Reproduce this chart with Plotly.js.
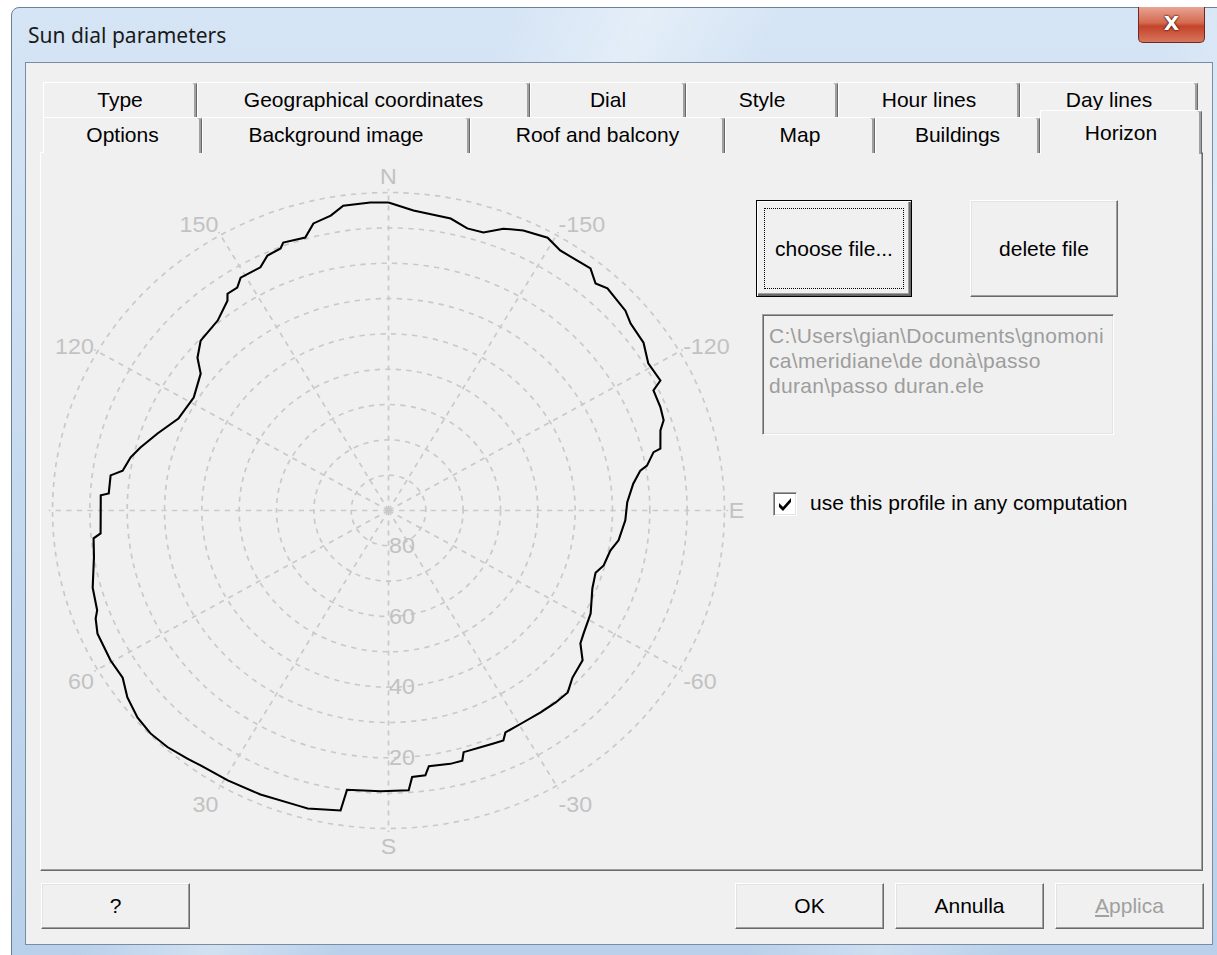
<!DOCTYPE html>
<html>
<head>
<meta charset="utf-8">
<script src="https://cdn.plot.ly/plotly-3.0.1.min.js"></script>
<style>
  html, body { margin:0; padding:0; }
  body { width:1217px; height:955px; overflow:hidden; background:#ffffff; position:relative; font-family:'Liberation Sans', Arial, sans-serif; }
  #win { position:absolute; left:11px; top:7px; width:1230px; height:960px; box-sizing:border-box;
         border:1px solid #6d7f96; border-top-left-radius:8px;
         background:
           linear-gradient(115deg, rgba(255,255,255,0) 30%, rgba(255,255,255,0.35) 38%, rgba(255,255,255,0) 46%, rgba(255,255,255,0) 70%, rgba(255,255,255,0.3) 78%, rgba(255,255,255,0) 86%),
           linear-gradient(to bottom, #d6e5f5 0%, #c3d8ee 60%, #b9d0ea 100%); }
  #title { position:absolute; left:28px; top:21px; font-family:'Noto Sans', 'Open Sans', sans-serif; font-size:21px; color:#1a1a1a; }
  #close { position:absolute; left:1138px; top:7px; width:67px; height:36px; box-sizing:border-box;
           border:1px solid #6e2a20; border-top:none; border-radius:0 0 5px 5px;
           background:linear-gradient(to bottom, #e8a493 0%, #d46a50 45%, #c2432a 55%, #d8755d 100%);
           color:#fff; font:bold 20px 'DejaVu Sans', sans-serif; text-align:center; line-height:33px;
           text-shadow:0 0 2px #4a0c00, 0 0 2px #4a0c00; }
  #client { position:absolute; left:25px; top:62px; width:1188px; height:883px; box-sizing:border-box;
            background:#f0f0f0; border:1px solid #7a8ca3; }
  .tab { position:absolute; box-sizing:border-box; background:#f0f0f0; border-top:1px solid #ffffff; border-left:1px solid #ffffff;
         border-right:1px solid #696969; box-shadow: inset -2px 0 0 #a0a0a0; border-top-right-radius:3px;
         text-align:center; font-size:21px; color:#000; white-space:nowrap; }
  .r1 { top:82px; height:36px; line-height:34px; }
  .r2 { top:117px; height:36px; line-height:34px; }
  #panel { position:absolute; left:40px; top:152px; width:1163px; height:719px; box-sizing:border-box;
           border-top:1px solid #ffffff; border-left:1px solid #ffffff; border-right:1px solid #696969; border-bottom:1px solid #696969;
           box-shadow: inset -1px -1px 0 #a0a0a0; background:#f0f0f0; }
  #seltab { position:absolute; left:1040px; top:110px; width:162px; height:44px; box-sizing:border-box; background:#f0f0f0;
            border-top:1px solid #ffffff; border-left:1px solid #ffffff; border-right:1px solid #696969; box-shadow: inset -2px 0 0 #a0a0a0;
            border-top-right-radius:3px; text-align:center; font-size:21px; line-height:44px; padding-bottom:4px; z-index:3; }
  .btn { position:absolute; box-sizing:border-box; background:#f0f0f0; border:1px solid; border-color:#ffffff #696969 #696969 #ffffff;
         box-shadow: inset -1px -1px 0 #a0a0a0, inset 1px 1px 0 #e3e3e3; text-align:center; font-size:21px; color:#000; z-index:4; }
  #choose { border:1px solid #000; box-shadow: inset 1px 1px 0 #ffffff, inset -2px -2px 0 #696969, inset -3px -3px 0 #a0a0a0; }
  #focus { position:absolute; left:7px; top:7px; right:7px; bottom:7px; border:1px dotted #000; }
  #pathbox { position:absolute; left:762px; top:314px; width:352px; height:121px; box-sizing:border-box; background:#f0f0f0;
             border:1px solid; border-color:#a0a0a0 #ffffff #ffffff #a0a0a0; box-shadow: inset 1px 1px 0 #696969, inset -1px -1px 0 #e3e3e3;
             padding:8px 0 0 6px; font-size:21px; line-height:25px; color:#9d9d9d; letter-spacing:0.3px; white-space:nowrap; z-index:4; }
  #chk { position:absolute; left:773px; top:492px; width:24px; height:24px; box-sizing:border-box; background:#ffffff;
         border:1px solid; border-color:#a0a0a0 #ffffff #ffffff #a0a0a0; box-shadow: inset 1px 1px 0 #696969, inset -1px -1px 0 #e3e3e3; z-index:4; }
  #chklabel { position:absolute; left:810px; top:491px; font-size:21px; color:#000; z-index:4; white-space:nowrap; }
  #chart { position:absolute; left:6.5px; top:128.5px; width:763px; height:763px; transform:scaleX(1.0566); transform-origin:50% 50%; z-index:2; }
</style>
</head>
<body>
<div id="win"></div>
<div id="title">Sun dial parameters</div>
<div id="close">X</div>
<div id="client"></div>

<div id="panel"></div>

<div class="tab r1" style="left:43px;width:154px;">Type</div>
<div class="tab r1" style="left:197px;width:333px;">Geographical coordinates</div>
<div class="tab r1" style="left:530px;width:156px;">Dial</div>
<div class="tab r1" style="left:686px;width:152px;">Style</div>
<div class="tab r1" style="left:838px;width:182px;">Hour lines</div>
<div class="tab r1" style="left:1020px;width:178px;">Day lines</div>
<div class="tab r2" style="left:43px;width:159px;">Options</div>
<div class="tab r2" style="left:202px;width:268px;">Background image</div>
<div class="tab r2" style="left:470px;width:255px;">Roof and balcony</div>
<div class="tab r2" style="left:725px;width:150px;">Map</div>
<div class="tab r2" style="left:875px;width:165px;">Buildings</div>
<div id="seltab">Horizon</div>

<div id="chart"></div>

<div class="btn" id="choose" style="left:756px;top:200px;width:156px;height:97px;line-height:95px;"><div id="focus"></div>choose file...</div>
<div class="btn" style="left:970px;top:200px;width:148px;height:97px;line-height:95px;">delete file</div>
<div id="pathbox">C:\Users\gian\Documents\gnomoni<br>ca\meridiane\de donà\passo<br>duran\passo duran.ele</div>
<div id="chk"><svg width="22" height="22" viewBox="0 0 22 22" style="position:absolute;left:0;top:0"><path d="M5 10 L9 14 L17 5 L17 9 L9 18 L5 14 Z" fill="#000"/></svg></div>
<div id="chklabel">use this profile in any computation</div>

<div class="btn" style="left:41px;top:883px;width:149px;height:46px;line-height:44px;">?</div>
<div class="btn" style="left:735px;top:883px;width:149px;height:46px;line-height:44px;">OK</div>
<div class="btn" style="left:895px;top:883px;width:149px;height:46px;line-height:44px;">Annulla</div>
<div class="btn" style="left:1055px;top:883px;width:149px;height:46px;line-height:44px;color:#a0a0a0;"><u>A</u>pplica</div>

<script>
// Horizon profile: azimuth (degrees, 0 = South, positive toward West) and horizon altitude (degrees)
const azimuth = [
  180, 176.8, 172.0, 169.5, 166.1, 163.9, 159.6, 158.7, 155.8, 153.5,
  149.0, 147.3, 144.9, 144.0, 139.6, 133.7, 130.2, 127.6, 121.5, 114.8,
  109.4, 105.0, 102.3, 99.0, 97.6, 93.7, 93.2, 90.0, 85.2, 84.3,
  80.5, 74.6, 70.1, 68.7, 65.9, 60.3, 56.4, 52.9, 48.9, 45.3,
  41.5, 37.5, 34.9, 29.4, 23.1, 15.7, 14.4, 8.6, 8.0, 1.5,
  -3.9, -4.8, -7.5, -8.5, -13.0, -15.6, -16.4, -20.2, -23.1, -25.3,
  -26.5, -31.1, -35.5, -39.5, -43.0, -46.2, -50.8, -53.8, -56.3, -61.7,
  -68.0, -72.4, -74.9, -79.2, -82.2, -87.5, -92.1, -96.6, -99.5, -100.4,
  -103.1, -103.5, -107.3, -109.1, -111.9, -115.6, -116.8, -120.9, -124.8, -129.2,
  -131.7, -137.0, -139.2, -141.7, -143.8, -148.0, -151.1, -155.5, -158.9, -162.1,
  -165.2, -168.6, -175.5, -180
];
const altitude = [
  2.8, 2.7, 2.9, 5.1, 6.3, 9.6, 9.1, 10.4, 10.9, 13.1,
  13.1, 15.0, 15.0, 16.6, 19.4, 20.4, 23.0, 26.5, 28.8, 28.0,
  24.4, 21.2, 19.3, 17.9, 14.9, 14.9, 12.8, 12.9, 12.6, 10.6,
  10.0, 7.8, 7.0, 5.8, 4.6, 4.3, 4.5, 2.3, 0.8, 0.3,
  0.6, 1.5, 2.0, 2.3, 2.6, 3.0, 2.9, 4.1, 10.2, 10.5,
  10.6, 14.3, 14.4, 16.8, 16.4, 16.5, 18.7, 18.6, 18.3, 18.0,
  19.8, 20.0, 19.8, 19.6, 19.6, 21.7, 22.9, 26.3, 27.2, 28.5,
  31.1, 31.8, 30.3, 29.5, 27.8, 26.5, 26.0, 24.0, 21.6, 19.6,
  17.1, 15.1, 13.7, 12.0, 11.5, 11.3, 8.4, 8.9, 6.8, 6.3,
  5.0, 4.0, 5.1, 2.7, 3.0, 3.2, 1.8, 2.9, 4.5, 7.3,
  7.4, 5.7, 4.8, 2.8
];
const angleTickValues = [0, 30, 60, 90, 120, 150, 180, 210, 240, 270, 300, 330];
const angleTickLabels = ['S', '30', '60', '', '120', '150', 'N', '-150', '-120', 'E', '-60', '-30'];
const altitudeTickValues = [80, 70, 60, 50, 40, 30, 20, 10, 0];
const altitudeTickLabels = ['80', '', '60', '', '40', '', '20', '', ''];

const gridColor = '#c9c9c9';
const labelFont = { family: 'Liberation Sans, Arial, sans-serif', size: 22, color: '#c2c2c2' };

const trace = {
  type: 'scatterpolar',
  r: altitude,
  theta: azimuth,
  mode: 'lines',
  line: { color: '#000000', width: 2 },
  hoverinfo: 'skip',
  cliponaxis: false
};

const layout = {
  width: 763, height: 763,
  margin: { l: 60, r: 60, t: 60, b: 60 },
  paper_bgcolor: 'rgba(0,0,0,0)',
  plot_bgcolor: 'rgba(0,0,0,0)',
  showlegend: false,
  polar: {
    bgcolor: 'rgba(0,0,0,0)',
    domain: { x: [0, 1], y: [0, 1] },
    radialaxis: {
      range: [90, -1],
      tickvals: altitudeTickValues,
      ticktext: altitudeTickLabels,
      angle: -90,
      tickangle: -90,
      side: 'counterclockwise',
      showline: false,
      ticks: '',
      gridcolor: gridColor,
      gridwidth: 1.6,
      griddash: '5px,5px',
      tickfont: labelFont,
      layer: 'below traces'
    },
    angularaxis: {
      rotation: -90,
      direction: 'clockwise',
      tickvals: angleTickValues,
      ticktext: angleTickLabels,
      showline: false,
      ticks: '',
      gridcolor: gridColor,
      gridwidth: 1.6,
      griddash: '5px,5px',
      tickfont: labelFont,
      layer: 'below traces'
    }
  }
};

Plotly.newPlot('chart', [trace], layout, { staticPlot: true, displayModeBar: false });
</script>
</body>
</html>
